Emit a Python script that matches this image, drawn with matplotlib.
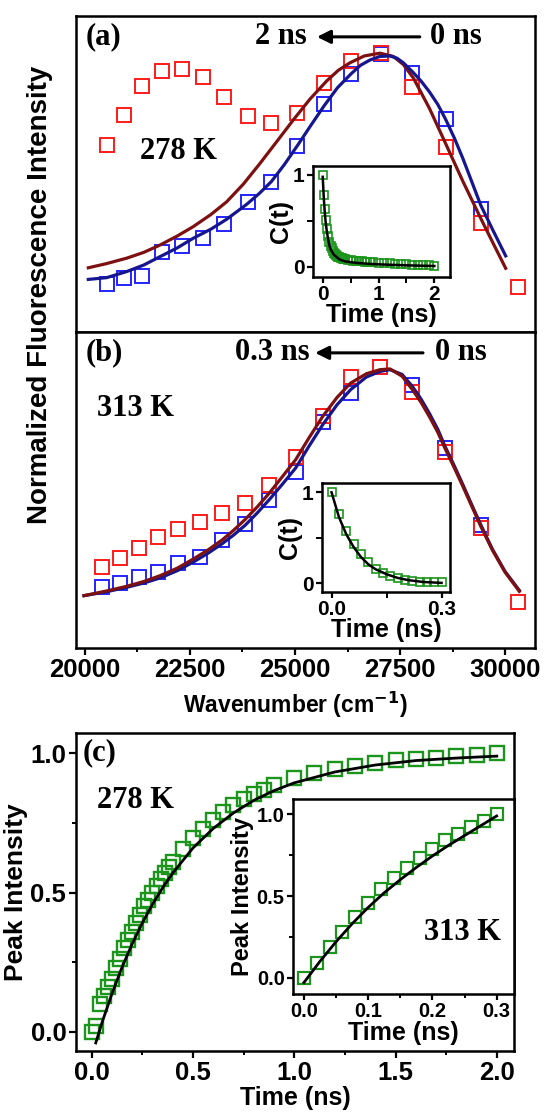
import matplotlib
matplotlib.use("Agg")
import matplotlib.pyplot as plt
from matplotlib.ticker import MultipleLocator, FixedLocator, FormatStrFormatter

# ---------------- data ----------------
# (a) 278 K: normalized emission spectra at 0 ns (blue) and 2 ns (red)
a_wn = [20517, 20929, 21357, 21825, 22302, 22802, 23310, 23873, 24437,
        25056, 25690, 26333, 27040, 27794, 28587, 29421, 30302]
a_red = [0.640, 0.758, 0.873, 0.933, 0.940, 0.910, 0.831, 0.756, 0.726,
         0.765, 0.884, 0.973, 1.005, 0.868, 0.633, 0.332, 0.077]
a_blue = [0.090, 0.115, 0.122, 0.215, 0.240, 0.273, 0.326, 0.415, 0.495,
          0.637, 0.802, 0.921, 1.000, 0.923, 0.741, 0.387]

a_red_fit_wn = [20079, 20500, 20992, 21400, 21786, 22200, 22579, 23000, 23373,
                23770, 24167, 24560, 24960, 25360, 25754, 26030, 26310, 26650,
                27024, 27341, 27580, 27817, 28200, 28587, 29000, 29421, 29720,
                30016]
a_red_fit = [0.154, 0.170, 0.192, 0.215, 0.244, 0.280, 0.317, 0.365, 0.415,
             0.485, 0.567, 0.652, 0.739, 0.822, 0.893, 0.935, 0.965, 0.992,
             1.003, 0.990, 0.958, 0.905, 0.785, 0.645, 0.495, 0.350, 0.250,
             0.152]
a_blue_fit_wn = [20079, 20516, 20992, 21400, 21786, 22200, 22579, 23000, 23373,
                 23849, 24150, 24437, 24750, 25056, 25380, 25690, 26010, 26333,
                 26560, 26786, 27020, 27262, 27430, 27579, 27794, 28000, 28200,
                 28400, 28587, 28800, 29000, 29210, 29421, 29720, 30016]
a_blue_fit = [0.108, 0.115, 0.139, 0.165, 0.198, 0.233, 0.271, 0.307, 0.346,
              0.405, 0.448, 0.495, 0.563, 0.637, 0.718, 0.794, 0.866, 0.921,
              0.955, 0.976, 0.990, 0.992, 0.983, 0.965, 0.930, 0.893, 0.850,
              0.800, 0.741, 0.665, 0.585, 0.494, 0.402, 0.300, 0.201]

# (b) 313 K: normalized emission spectra at 0 ns (blue) and 0.3 ns (red)
b_wn = [20397, 20833, 21286, 21730, 22222, 22738, 23270, 23810, 24389,
        25016, 25659, 26325, 27024, 27794, 28571, 29421, 30302]
b_red = [0.219, 0.255, 0.297, 0.338, 0.370, 0.400, 0.433, 0.475, 0.545,
         0.657, 0.818, 0.971, 1.011, 0.911, 0.674, 0.374, 0.080]
b_blue = [0.143, 0.156, 0.182, 0.200, 0.235, 0.261, 0.327, 0.391, 0.485,
          0.598, 0.795, 0.908, 1.011, 0.940, 0.690, 0.387]

b_fit_wn = [19976, 20500, 20992, 21400, 21786, 22200, 22579, 22930, 23270,
            23540, 23810, 24100, 24389, 24700, 25016, 25340, 25659, 26000,
            26325, 26700, 27024, 27262, 27550, 27794, 28000, 28200, 28400,
            28571, 28800, 29000, 29210, 29421, 29700, 30000, 30341]
b_red_fit = [0.107, 0.125, 0.144, 0.163, 0.186, 0.216, 0.252, 0.288, 0.328,
             0.366, 0.408, 0.458, 0.513, 0.578, 0.645, 0.733, 0.816, 0.891,
             0.948, 0.985, 1.001, 1.004, 0.975, 0.922, 0.872, 0.815, 0.753,
             0.690, 0.610, 0.538, 0.460, 0.382, 0.287, 0.200, 0.124]
b_blue_fit = [0.107, 0.122, 0.140, 0.157, 0.177, 0.206, 0.240, 0.275, 0.313,
              0.347, 0.385, 0.434, 0.487, 0.548, 0.612, 0.700, 0.783, 0.862,
              0.922, 0.972, 0.994, 1.001, 0.982, 0.935, 0.885, 0.828, 0.765,
              0.698, 0.618, 0.545, 0.466, 0.388, 0.291, 0.203, 0.128]

# 278 K time axis, spectral correlation C(t) and peak intensity
t278 = [0, 0.02, 0.04, 0.06, 0.08, 0.10, 0.12, 0.14, 0.16, 0.18, 0.20, 0.22,
        0.24, 0.26, 0.28, 0.30, 0.32, 0.34, 0.36, 0.38, 0.40, 0.45, 0.50, 0.55,
        0.60, 0.65, 0.70, 0.75, 0.80, 0.85, 0.90, 1.0, 1.1, 1.2, 1.3, 1.4, 1.5,
        1.6, 1.7, 1.8, 1.9, 2.0]
ct278 = [1.0, 0.78, 0.63, 0.51, 0.41, 0.33, 0.27, 0.23, 0.20, 0.175, 0.155,
         0.14, 0.128, 0.118, 0.11, 0.103, 0.097, 0.092, 0.088, 0.084, 0.08,
         0.075, 0.07, 0.066, 0.063, 0.06, 0.057, 0.055, 0.053, 0.051, 0.049,
         0.046, 0.042, 0.038, 0.034, 0.03, 0.027, 0.023, 0.02, 0.017, 0.014, 0.012]
peak278 = [0.0, 0.02, 0.10, 0.13, 0.16, 0.19, 0.23, 0.26, 0.30, 0.33, 0.36,
           0.39, 0.42, 0.45, 0.475, 0.50, 0.525, 0.55, 0.57, 0.59, 0.61, 0.655,
           0.695, 0.73, 0.76, 0.79, 0.815, 0.835, 0.855, 0.87, 0.885, 0.91,
           0.93, 0.945, 0.955, 0.965, 0.975, 0.98, 0.985, 0.99, 0.995, 1.0]

ct278_fit_t = [0, 0.01, 0.02, 0.035, 0.05, 0.075, 0.1, 0.125, 0.15, 0.2, 0.3,
               0.4, 0.6, 0.8, 1.0, 1.5, 2.0]
ct278_fit = [0.98, 0.86, 0.74, 0.61, 0.50, 0.38, 0.29, 0.22, 0.18, 0.13, 0.08,
             0.058, 0.042, 0.033, 0.026, 0.015, 0.008]
peak278_fit_t = [0.02, 0.05, 0.1, 0.15, 0.2, 0.25, 0.3, 0.35, 0.4, 0.5, 0.6,
                 0.7, 0.8, 0.9, 1.0, 1.2, 1.4, 1.6, 1.8, 2.0]
peak278_fit = [-0.04, 0.031, 0.137, 0.232, 0.316, 0.391, 0.458, 0.517, 0.570,
               0.660, 0.730, 0.786, 0.831, 0.866, 0.894, 0.933, 0.958, 0.974,
               0.983, 0.990]

# 313 K time axis, spectral correlation C(t) and peak intensity
t313 = [0, 0.02, 0.04, 0.06, 0.08, 0.10, 0.12, 0.14, 0.16, 0.18, 0.20, 0.22,
        0.24, 0.26, 0.28, 0.30]
ct313 = [1.0, 0.76, 0.58, 0.43, 0.32, 0.23, 0.16, 0.11, 0.08, 0.055, 0.04,
         0.03, 0.02, 0.015, 0.01, 0.01]
peak313 = [0.0, 0.09, 0.19, 0.28, 0.37, 0.46, 0.54, 0.61, 0.67, 0.73, 0.79,
           0.84, 0.88, 0.92, 0.96, 1.0]

ct313_fit_t = [0, 0.02, 0.04, 0.06, 0.08, 0.1, 0.12, 0.15, 0.18, 0.21, 0.25, 0.3]
ct313_fit = [1.0, 0.73, 0.54, 0.40, 0.29, 0.21, 0.155, 0.10, 0.06, 0.035, 0.015, 0.005]
peak313_fit_t = [0, 0.025, 0.05, 0.075, 0.1, 0.125, 0.15, 0.175, 0.2, 0.225,
                 0.25, 0.275, 0.3]
peak313_fit = [-0.03, 0.10, 0.22, 0.33, 0.43, 0.52, 0.60, 0.675, 0.745, 0.81,
               0.87, 0.93, 0.99]

wn_ticks = [20000, 22500, 25000, 27500, 30000]

# ---------------- style ----------------
RED = "#ff1a1a"
BLUE = "#2424ff"
MAROON = "#7d1010"
NAVY = "#16168f"
GREEN = "#1c951c"
SANS = "Liberation Sans"
SERIF = "Liberation Serif"

plt.rcParams["font.family"] = SANS
plt.rcParams["font.weight"] = "bold"
plt.rcParams["axes.linewidth"] = 1.8
plt.rcParams["mathtext.default"] = "bf"

W, H = 544, 1116
fig = plt.figure(figsize=(W / 100, H / 100), dpi=100)


def box(x0, y0, x1, y1):
    """Axes rectangle from pixel corners (top-left origin)."""
    return [x0 / W, 1 - y1 / H, (x1 - x0) / W, (y1 - y0) / H]


def style_ticks(ax, size, length=5, minor_len=3):
    ax.tick_params(which="major", direction="out", length=length, width=1.6,
                   labelsize=size, pad=2)
    ax.tick_params(which="minor", direction="out", length=minor_len, width=1.4)
    for lab in ax.get_xticklabels() + ax.get_yticklabels():
        lab.set_fontweight("bold")


def serif_text(ax, x, y, s, size=22, **kw):
    ax.text(x, y, s, transform=ax.transAxes, fontsize=size, fontweight="bold",
            family=SERIF, **kw)


def arrow(ax, x0, x1, y):
    ax.annotate("", xy=(x1, y), xytext=(x0, y), xycoords="axes fraction",
                arrowprops=dict(arrowstyle="-|>", color="black", lw=2.2,
                                mutation_scale=20, shrinkA=0, shrinkB=0))


sq = dict(marker="s", linestyle="none", markerfacecolor="none")

# ---------------- panel (a) ----------------
ax_a = fig.add_axes(box(76, 16, 535, 332))
ax_a.plot(a_wn[:len(a_blue)], a_blue, markeredgecolor=BLUE, markersize=9.5,
          markeredgewidth=1.4, **sq)
ax_a.plot(a_wn, a_red, markeredgecolor=RED, markersize=9.5,
          markeredgewidth=1.4, **sq)
ax_a.plot(a_red_fit_wn, a_red_fit, color=MAROON, lw=2.3)
ax_a.plot(a_blue_fit_wn, a_blue_fit, color=NAVY, lw=2.3)
ax_a.set_xlim(19786, 30714)
ax_a.set_ylim(-0.1, 1.15)
ax_a.set_xticks([])
ax_a.set_yticks([])
serif_text(ax_a, 0.022, 0.934, "(a)", ha="left", va="center")
serif_text(ax_a, 0.447, 0.934, "2 ns", ha="center", va="center")
serif_text(ax_a, 0.828, 0.934, "0 ns", ha="center", va="center")
arrow(ax_a, 0.749, 0.525, 0.934)
serif_text(ax_a, 0.224, 0.571, "278 K", ha="center", va="center")

# inset: C(t) at 278 K
ax_ai = fig.add_axes(box(313, 166, 450, 277))
ax_ai.plot(t278, ct278, markeredgecolor=GREEN, markersize=6,
           markeredgewidth=1.2, **sq)
ax_ai.plot(ct278_fit_t, ct278_fit, color="black", lw=1.8)
ax_ai.set_xlim(-0.174, 2.28)
ax_ai.set_ylim(-0.112, 1.098)
ax_ai.xaxis.set_major_locator(FixedLocator([0, 1, 2]))
ax_ai.xaxis.set_minor_locator(FixedLocator([0.5, 1.5]))
ax_ai.yaxis.set_major_locator(FixedLocator([0, 1]))
ax_ai.yaxis.set_minor_locator(FixedLocator([0.5]))
ax_ai.set_xticklabels(["0", "1", "2"])
ax_ai.set_yticklabels(["0", "1"])
style_ticks(ax_ai, 15, length=4, minor_len=4)
ax_ai.set_xlabel("Time (ns)", fontsize=18, fontweight="bold", labelpad=-1)
ax_ai.set_ylabel("C(t)", fontsize=18, fontweight="bold", labelpad=0)

# ---------------- panel (b) ----------------
ax_b = fig.add_axes(box(76, 332, 535, 648))
ax_b.plot(b_wn[:len(b_blue)], b_blue, markeredgecolor=BLUE, markersize=9.5,
          markeredgewidth=1.4, **sq)
ax_b.plot(b_wn, b_red, markeredgecolor=RED, markersize=9.5,
          markeredgewidth=1.4, **sq)
ax_b.plot(b_fit_wn, b_blue_fit, color=NAVY, lw=2.3)
ax_b.plot(b_fit_wn, b_red_fit, color=MAROON, lw=2.3)
ax_b.set_xlim(19786, 30714)
ax_b.set_ylim(-0.1, 1.15)
ax_b.set_yticks([])
ax_b.xaxis.set_major_locator(FixedLocator(wn_ticks))
ax_b.xaxis.set_minor_locator(MultipleLocator(1250))
style_ticks(ax_b, 18.5)
serif_text(ax_b, 0.022, 0.934, "(b)", ha="left", va="center")
serif_text(ax_b, 0.428, 0.934, "0.3 ns", ha="center", va="center")
serif_text(ax_b, 0.839, 0.934, "0 ns", ha="center", va="center")
arrow(ax_b, 0.756, 0.521, 0.934)
serif_text(ax_b, 0.130, 0.759, "313 K", ha="center", va="center")

# inset: C(t) at 313 K
ax_bi = fig.add_axes(box(322, 483, 450, 592))
ax_bi.plot(t313, ct313, markeredgecolor=GREEN, markersize=6,
           markeredgewidth=1.2, **sq)
ax_bi.plot(ct313_fit_t, ct313_fit, color="black", lw=1.8)
ax_bi.set_xlim(-0.026, 0.323)
ax_bi.set_ylim(-0.095, 1.102)
ax_bi.xaxis.set_major_locator(FixedLocator([0.0, 0.3]))
ax_bi.xaxis.set_minor_locator(FixedLocator([0.15]))
ax_bi.yaxis.set_major_locator(FixedLocator([0, 1]))
ax_bi.yaxis.set_minor_locator(FixedLocator([0.5]))
ax_bi.set_xticklabels(["0.0", "0.3"])
ax_bi.set_yticklabels(["0", "1"])
style_ticks(ax_bi, 15, length=4, minor_len=4)
ax_bi.set_xlabel("Time (ns)", fontsize=18, fontweight="bold", labelpad=-1)
ax_bi.set_ylabel("C(t)", fontsize=18, fontweight="bold", labelpad=0)

fig.text(40 / W, 1 - 295 / H, "Normalized Fluorescence Intensity",
         rotation=90, ha="center", va="center", fontsize=20, fontweight="bold")
fig.text(295 / W, 1 - 705 / H, r"Wavenumber (cm$^{-1}$)",
         ha="center", va="center", fontsize=16.5, fontweight="bold")

# ---------------- panel (c) ----------------
ax_c = fig.add_axes(box(76, 733, 514, 1051))
ax_c.plot(t278, peak278, markeredgecolor=GREEN, markersize=10.5,
          markeredgewidth=1.7, **sq)
ax_c.plot(peak278_fit_t, peak278_fit, color="black", lw=2.0)
ax_c.set_xlim(-0.0775, 2.085)
ax_c.set_ylim(-0.069, 1.073)
ax_c.xaxis.set_major_locator(MultipleLocator(0.5))
ax_c.xaxis.set_minor_locator(MultipleLocator(0.25))
ax_c.yaxis.set_major_locator(MultipleLocator(0.5))
ax_c.yaxis.set_minor_locator(MultipleLocator(0.25))
ax_c.xaxis.set_major_formatter(FormatStrFormatter("%.1f"))
ax_c.yaxis.set_major_formatter(FormatStrFormatter("%.1f"))
style_ticks(ax_c, 18.5)
ax_c.set_xlabel("Time (ns)", fontsize=18, fontweight="bold", labelpad=1)
ax_c.set_ylabel("Peak Intensity", fontsize=19, fontweight="bold", labelpad=2)
serif_text(ax_c, 0.014, 0.937, "(c)", ha="left", va="center")
serif_text(ax_c, 0.135, 0.789, "278 K", ha="center", va="center")

# inset: peak intensity at 313 K
ax_ci = fig.add_axes(box(293, 799, 514, 994))
ax_ci.plot(t313, peak313, markeredgecolor=GREEN, markersize=9,
           markeredgewidth=1.6, **sq)
ax_ci.plot(peak313_fit_t, peak313_fit, color="black", lw=2.0)
ax_ci.set_xlim(-0.017, 0.327)
ax_ci.set_ylim(-0.1, 1.094)
ax_ci.xaxis.set_major_locator(MultipleLocator(0.1))
ax_ci.xaxis.set_minor_locator(MultipleLocator(0.05))
ax_ci.yaxis.set_major_locator(MultipleLocator(0.5))
ax_ci.yaxis.set_minor_locator(MultipleLocator(0.25))
ax_ci.xaxis.set_major_formatter(FormatStrFormatter("%.1f"))
ax_ci.yaxis.set_major_formatter(FormatStrFormatter("%.1f"))
style_ticks(ax_ci, 14.5, length=4, minor_len=3)
ax_ci.set_xlabel("Time (ns)", fontsize=18, fontweight="bold", labelpad=0)
ax_ci.set_ylabel("Peak Intensity", fontsize=17, fontweight="bold", labelpad=2)
serif_text(ax_ci, 0.767, 0.313, "313 K", ha="center", va="center")

fig.savefig("out.png", dpi=100)
